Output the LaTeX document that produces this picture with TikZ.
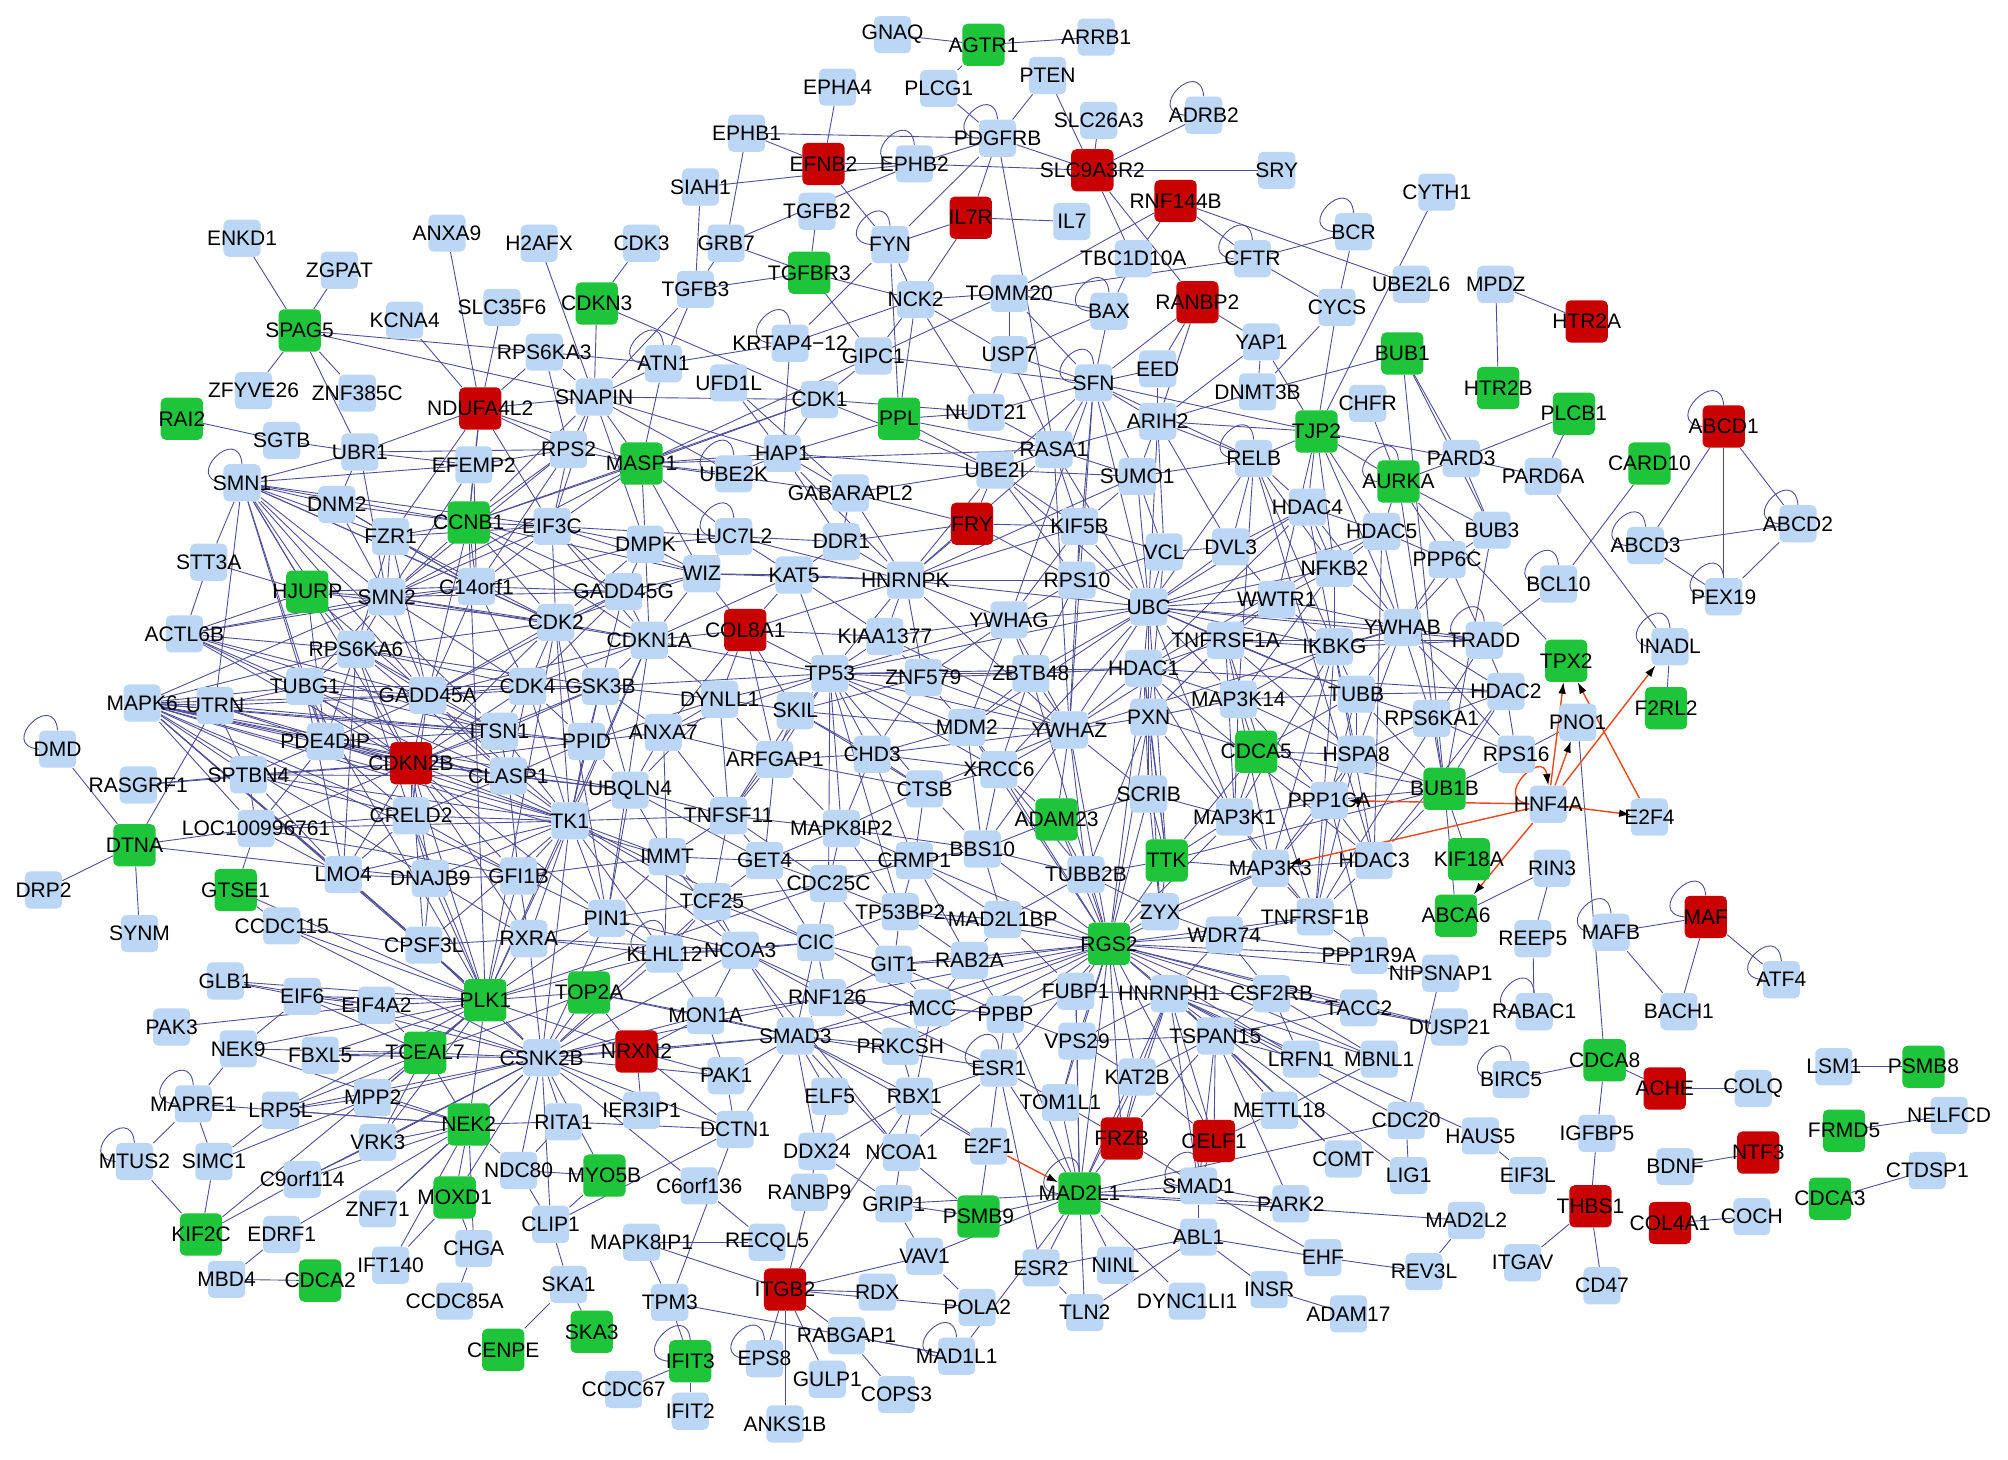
\documentclass[tikz,border=0pt]{standalone}
\usepackage{fontspec}
\setmainfont{Liberation Sans}
\usetikzlibrary{arrows.meta}
\pgfdeclarelayer{bg}
\pgfdeclarelayer{paper}
\pgfsetlayers{paper,bg,main}
\definecolor{lb}{RGB}{188,215,245}
\definecolor{gr}{RGB}{30,196,58}
\definecolor{rd}{RGB}{200,0,0}
\definecolor{ec}{RGB}{78,78,150}
\definecolor{oc}{RGB}{236,72,32}
\tikzset{
 box/.style={rectangle,rounded corners=4pt,inner sep=0pt,draw=none},
 nb/.style={box,fill=lb,minimum size=29pt},
 ng/.style={box,fill=gr,minimum size=33pt},
 nr/.style={box,fill=rd,minimum size=33pt},
 lbl/.style={inner sep=0pt,font=\fontsize{16.4}{18}\selectfont},
 edge/.style={draw=ec,line width=0.7pt},
 oarr/.style={draw=oc,line width=1.1pt,-{Latex[length=9pt,width=6pt,color=black]}},
}
\newcommand\slp[1]{\draw[edge] (#1.north) .. controls +(-3,-32) and +(-32,-3) .. (#1.west);}
\def\Blue{GNAQ/697/27, ARRB1/856/29, PTEN/818/59, EPHA4/654/68, PLCG1/733/69, ADRB2/940/90, SLC26A3/858/94, EPHB1/583/104, PDGFRB/779/108, EPHB2/714/128, SRY/997/133, SIAH1/547/146, CYTH1/1122/150, TGFB2/638/165, IL7/837/173, ENKD1/189/186, ANXA9/349/182, H2AFX/421/190, CDK3/501/190, GRB7/567/190, FYN/695/191, TBC1D10A/885/202, CFTR/978/202, BCR/1057/181, ZGPAT/265/211, TGFB3/543/226, NCK2/715/234, TOMM20/788/229, BAX/866/243, CYCS/1044/240, UBE2L6/1102/222, MPDZ/1168/222, KCNA4/316/250, SLC35F6/392/240, RPS6KA3/425/275, ATN1/518/284, GIPC1/682/278, USP7/788/277, YAP1/985/267, ZFYVE26/198/305, ZNF385C/279/307, SNAPIN/464/310, UFD1L/569/299, CDK1/640/312, NUDT21/770/322, SFN/854/299, EED/904/288, DNMT3B/982/306, CHFR/1068/315, SGTB/220/344, UBR1/281/353, RPS2/444/351, HAP1/611/354, ARIH2/904/329, RASA1/823/351, RELB/979/358, PARD3/1141/358, SMN1/189/377, DNM2/263/394, EFEMP2/370/363, UBE2K/573/370, UBE2I/777/367, SUMO1/888/372, PARD6A/1205/372, FZR1/305/419, EIF3C/431/411, GABARAPL2/664/385, KIF5B/843/411, HDAC4/1021/396, HDAC5/1079/415, BUB3/1165/414, ABCD2/1404/409, ABCD3/1285/426, STT3A/163/439, DMPK/504/425, LUC7L2/573/419, DDR1/657/423, RPS10/841/453, VCL/909/431, DVL3/961/427, PPP6C/1130/437, SMN2/302/466, C14orf1/372/458, WIZ/548/448, KAT5/620/449, HNRNPK/707/453, UBC/897/474, NFKB2/1042/444, WWTR1/997/468, BCL10/1217/456, PEX19/1346/466, ACTL6B/144/495, GADD45G/487/462, CDK2/434/486, CDKN1A/507/500, KIAA1377/691/497, YWHAG/788/484, YWHAB/1095/490, TRADD/1159/500, IKBKG/1042/505, TNFRSF1A/957/500, INADL/1304/505, RPS6KA6/278/507, TUBG1/238/536, GADD45A/334/543, CDK4/412/536, GSK3B/469/536, TP53/648/526, ZNF579/721/529, ZBTB48/805/526, HDAC1/893/522, MAP3K14/967/546, TUBB/1059/542, HDAC2/1176/540, MAPK6/111/549, UTRN/168/551, DYNLL1/562/546, SKIL/621/555, MDM2/755/568, YWHAZ/835/570, PXN/897/560, RPS6KA1/1118/561, PNO1/1232/564, DMD/45/585, PDE4DIP/254/579, ITSN1/390/571, PPID/458/579, ANXA7/518/572, HSPA8/1059/589, RPS16/1184/589, RASGRF1/108/613, SPTBN4/194/605, CLASP1/397/606, UBQLN4/492/617, ARFGAP1/605/593, CHD3/681/589, CTSB/722/616, XRCC6/780/601, LOC100996761/200/647, CRELD2/321/637, TK1/445/641, TNFSF11/569/637, MAPK8IP2/657/647, BBS10/767/663, SCRIB/897/620, PPP1CA/1038/625, HNF4A/1209/628, E2F4/1288/638, MAP3K1/964/638, IMMT/521/669, GET4/597/672, CRMP1/714/672, GFI1B/405/684, DNAJB9/336/686, LMO4/268/683, MAP3K3/992/678, HDAC3/1073/672, RIN3/1212/678, CDC25C/647/690, TUBB2B/848/683, DRP2/34/695, TCF25/556/704, TP53BP2/703/712, MAD2L1BP/783/718, ZYX/906/712, SYNM/109/729, CCDC115/220/723, RXRA/413/733, PIN1/474/717, KLHL12/519/745, NCOA3/578/742, CIC/637/736, WDR74/956/730, TNFRSF1B/1027/716, REEP5/1197/733, MAFB/1258/728, CPSF3L/331/738, GIT1/698/753, RAB2A/757/750, PPP1R9A/1069/746, NIPSNAP1/1125/760, ATF4/1391/765, GLB1/176/766, EIF6/236/778, EIF4A2/294/785, MON1A/551/793, RNF126/646/779, MCC/728/787, FUBP1/840/774, HNRNPH1/913/776, CSF2RB/993/776, TACC2/1061/787, DUSP21/1132/802, RABAC1/1198/790, BACH1/1311/790, PAK3/134/802, NEK9/186/819, FBXL5/250/824, CSNK2B/423/826, SMAD3/621/809, PRKCSH/703/817, PPBP/785/792, VPS29/841/813, TSPAN15/949/809, LRFN1/1016/827, MBNL1/1077/827, BIRC5/1180/843, COLQ/1369/850, LSM1/1432/833, PAK1/567/840, ESR1/780/834, KAT2B/888/841, MAPRE1/151/862, LRP5L/219/867, MPP2/291/857, RITA1/440/876, IER3IP1/501/867, ELF5/648/856, RBX1/714/856, DCTN1/574/882, TOM1L1/828/861, METTL18/999/867, CDC20/1098/875, HAUS5/1156/887, EIF3L/1193/918, IGFBP5/1247/885, BDNF/1308/911, NELFCD/1522/871, MTUS2/105/907, SIMC1/167/907, C9orf114/236/921, VRK3/295/892, NDC80/405/914, DDX24/638/899, NCOA1/704/900, E2F1/772/895, C6orf136/546/926, COMT/1049/905, LIG1/1100/918, EDRF1/220/964, ZNF71/295/944, CLIP1/430/956, RANBP9/632/931, GRIP1/698/940, SMAD1/936/926, PARK2/1008/940, MAD2L2/1145/953, COCH/1368/950, CTDSP1/1505/914, MBD4/177/999, IFT140/305/988, CHGA/370/975, VAV1/722/981, ABL1/936/966, EHF/1033/982, REV3L/1112/993, ITGAV/1189/986, CCDC85A/355/1016, SKA1/444/1003, MAPK8IP1/501/970, RECQL5/599/970, ESR2/813/990, NINL/871/988, INSR/991/1007, RDX/685/1009, POLA2/763/1021, TLN2/847/1025, DYNC1LI1/927/1016, ADAM17/1053/1026, CD47/1251/1004, TPM3/523/1017, RABGAP1/661/1043, EPS8/597/1061, MAD1L1/747/1059, GULP1/646/1077, COPS3/700/1089, CCDC67/487/1085, IFIT2/539/1102, ANKS1B/613/1112}
\def\Green{AGTR1/768/35, TGFBR3/632/213, CDKN3/466/237, SPAG5/234/258, BUB1/1095/276, HTR2B/1170/303, PPL/702/327, TJP2/1028/337, PLCB1/1229/323, RAI2/142/327, MASP1/501/362, CARD10/1288/362, AURKA/1092/376, CCNB1/366/408, HJURP/240/462, TPX2/1223/516, F2RL2/1301/553, CDCA5/981/587, ADAM23/825/640, BUB1B/1128/616, DTNA/105/660, TTK/911/672, KIF18A/1147/671, GTSE1/184/695, ABCA6/1137/715, RGS2/866/737, PLK1/379/781, TOP2A/460/775, TCEAL7/332/822, CDCA8/1253/828, PSMB8/1502/833, NEK2/366/878, FRMD5/1440/883, MYO5B/472/918, KIF2C/157/964, MOXD1/355/935, PSMB9/764/950, MAD2L1/843/932, CDCA3/1429/936, CDCA2/250/1000, SKA3/462/1040, CENPE/393/1054, IFIT3/539/1063}
\def\Red{EFNB2/643/128, SLC9A3R2/853/133, RNF144B/918/157, IL7R/758/170, RANBP2/935/236, HTR2A/1239/251, NDUFA4L2/375/319, ABCD1/1346/333, FRY/759/409, COL8A1/582/492, CDKN2B/321/596, MAF/1332/716, NRXN2/497/821, ACHE/1300/850, FRZB/876/889, CELF1/948/891, NTF3/1373/900, THBS1/1242/942, COL4A1/1304/955, ITGB2/613/1007}
\begin{document}
\begin{tikzpicture}[x=1pt,y=-1pt]
\begin{pgfonlayer}{paper}
\fill[white] (0,0) rectangle (1568,1140);
\end{pgfonlayer}
\useasboundingbox (0,0) rectangle (1568,1140);
% boxes
\foreach \n/\x/\y in \Blue {\node[nb] (\n) at (\x,\y) {};}
\node[nb] (KRTAP) at (617,268) {};
\foreach \n/\x/\y in \Green {\node[ng] (\n) at (\x,\y) {};}
\foreach \n/\x/\y in \Red {\node[nr] (\n) at (\x,\y) {};}
% labels
\foreach \n/\x/\y in \Blue {\node[lbl] at (\x,\y) {\n};}
\node[lbl] at (617,268) {KRTAP4−12};
\foreach \n/\x/\y in \Green {\node[lbl] at (\x,\y) {\n};}
\foreach \n/\x/\y in \Red {\node[lbl] at (\x,\y) {\n};}
\begin{pgfonlayer}{bg}
\foreach \a/\b in {GNAQ/AGTR1, AGTR1/ARRB1, AGTR1/PLCG1, PLCG1/PDGFRB, PTEN/PDGFRB, PTEN/SLC9A3R2, EPHA4/EFNB2, EPHB1/PDGFRB, EPHB1/EFNB2, EPHB1/GRB7, EFNB2/EPHB2, EPHB2/PDGFRB, EPHB2/SLC9A3R2, SIAH1/EPHB2, SIAH1/TGFB3, EFNB2/FYN, GRB7/EPHB2, GRB7/TGFBR3, GRB7/TGFB3, TGFB2/TGFBR3, TGFB3/TGFBR3, FYN/IL7R, FYN/PDGFRB, FYN/NCK2, FYN/PPL, FYN/KRTAP, IL7R/PDGFRB, IL7R/NCK2, IL7R/IL7, TGFBR3/NCK2, TGFBR3/GIPC1, CDKN3/CDK3, CDKN3/SNAPIN, CDKN3/CDK1, H2AFX/SNAPIN, TGFB3/ATN1, TGFB3/SNAPIN, ATN1/RPS6KA3, ATN1/KRTAP, ATN1/MASP1, ATN1/SNAPIN, KRTAP/NCK2, KRTAP/HAP1, GIPC1/NCK2, GIPC1/CDK1, GIPC1/TOMM20, NCK2/PPL, NCK2/NUDT21, NCK2/TOMM20, NCK2/USP7, UFD1L/HAP1, UFD1L/GABARAPL2, RPS6KA3/SNAPIN, RPS6KA3/RPS2, SNAPIN/RPS2, SNAPIN/MASP1, SNAPIN/UBE2K, SNAPIN/HAP1, SNAPIN/NDUFA4L2, SNAPIN/CDK1, SNAPIN/EIF3C, SNAPIN/CCNB1, SNAPIN/DMPK, CDK1/HAP1, CDK1/NUDT21, CDK1/UBE2I, PPL/NUDT21, PPL/HAP1, PPL/UBE2I, PPL/RASA1, MASP1/RPS2, MASP1/UBE2K, MASP1/HAP1, MASP1/GIPC1, MASP1/CDK1, MASP1/WIZ, MASP1/LUC7L2, MASP1/DMPK, MASP1/GABARAPL2, MASP1/EIF3C, MASP1/CCNB1, MASP1/RASA1, HAP1/UBE2I, HAP1/GABARAPL2, HAP1/UBE2K, HAP1/DDR1, HAP1/HNRNPK, SLC26A3/SLC9A3R2, ADRB2/SLC9A3R2, SLC9A3R2/SRY, SLC9A3R2/PDGFRB, SLC9A3R2/TBC1D10A, SLC9A3R2/RANBP2, PDGFRB/RASA1, RNF144B/TBC1D10A, RNF144B/TOMM20, RNF144B/CFTR, RNF144B/UBE2L6, CFTR/BCR, CFTR/CYCS, CFTR/TOMM20, BCR/CYCS, CYTH1/TJP2, TBC1D10A/BAX, BAX/SFN, BAX/TOMM20, BAX/USP7, TOMM20/SFN, TOMM20/USP7, RANBP2/SFN, RANBP2/EED, RANBP2/YAP1, RANBP2/ARIH2, YAP1/DNMT3B, YAP1/TJP2, YAP1/ARIH2, CYCS/DNMT3B, CYCS/TJP2, BUB1/DNMT3B, BUB1/PARD3, CHFR/AURKA, TJP2/PARD3, TJP2/SFN, TJP2/RELB, TJP2/ARIH2, EED/SFN, EED/ARIH2, SFN/USP7, SFN/RASA1, SFN/ARIH2, SFN/UBE2I, SFN/SUMO1, SFN/RELB, SFN/NUDT21, SFN/GIPC1, ARIH2/RELB, ARIH2/DNMT3B, ARIH2/SUMO1, ARIH2/RASA1, RASA1/SUMO1, RASA1/UBE2I, RASA1/NUDT21, USP7/RASA1, USP7/NUDT21, MPDZ/HTR2A, MPDZ/HTR2B, PLCB1/PARD6A, PLCB1/PARD3, PARD3/PARD6A, PARD3/AURKA, ABCD1/ABCD3, ABCD1/PEX19, ABCD1/ABCD2, ABCD2/ABCD3, ABCD2/PEX19, ABCD3/PEX19, PARD6A/INADL, BCL10/CARD10, BCL10/TRADD, TPX2/AURKA, INADL/F2RL2, RPS16/PNO1, PNO1/CDCA8, RIN3/REEP5, RIN3/ABCA6, REEP5/RABAC1, MAFB/MAF, MAFB/BACH1, MAF/ATF4, MAF/BACH1, CDCA8/BIRC5, CDCA8/ACHE, CDCA8/IGFBP5, ACHE/COLQ, LSM1/PSMB8, FRMD5/NELFCD, BDNF/NTF3, COL4A1/COCH, CDCA3/CTDSP1, IGFBP5/THBS1, THBS1/ITGAV, THBS1/CD47}
 {\draw[edge] (\a) -- (\b);}
\foreach \a/\b in {SMN1/STT3A, SMN1/DNM2, SMN1/FZR1, SMN1/SMN2, SMN1/HJURP, SMN1/RPS6KA6, SMN1/TUBG1, SMN1/GADD45A, SMN1/CCNB1, SMN1/C14orf1, SMN1/EFEMP2, SMN1/EIF3C, SMN1/CDK2, SMN1/CDKN2B, SMN1/PDE4DIP, SMN1/UTRN, SMN1/ITSN1, SMN1/UBR1, SMN2/FZR1, SMN2/DNM2, SMN2/HJURP, SMN2/C14orf1, SMN2/CCNB1, SMN2/EIF3C, SMN2/RPS6KA6, SMN2/GADD45A, SMN2/CDK4, SMN2/CDK2, SMN2/ACTL6B, SMN2/RPS2, SMN2/GADD45G, SMN2/MASP1, SMN2/CDKN1A, SMN2/UBR1, SMN2/EFEMP2, SMN2/TUBG1, SMN2/MAPK6, DNM2/FZR1, DNM2/CCNB1, DNM2/UBR1, DNM2/C14orf1, FZR1/CCNB1, FZR1/CDK2, FZR1/C14orf1, FZR1/EIF3C, FZR1/GADD45A, FZR1/RPS6KA6, CCNB1/EIF3C, CCNB1/CDK2, CCNB1/C14orf1, CCNB1/GADD45G, CCNB1/CDK1, CCNB1/RPS2, CCNB1/EFEMP2, CCNB1/WIZ, CCNB1/CDKN1A, CCNB1/PLK1, CCNB1/GADD45A, EFEMP2/RPS2, EFEMP2/NDUFA4L2, EFEMP2/UBR1, EFEMP2/C14orf1, NDUFA4L2/UBR1, NDUFA4L2/RPS2, NDUFA4L2/CCNB1, NDUFA4L2/FZR1, NDUFA4L2/EIF3C, NDUFA4L2/MASP1, NDUFA4L2/RPS6KA3, KCNA4/NDUFA4L2, ANXA9/NDUFA4L2, SLC35F6/NDUFA4L2, SPAG5/ENKD1, SPAG5/ZGPAT, SPAG5/ZFYVE26, SPAG5/ZNF385C, SPAG5/UBR1, SPAG5/RPS6KA3, SPAG5/SNAPIN, RAI2/SGTB, SGTB/UBR1, UBR1/RPS2, C14orf1/EIF3C, C14orf1/CDK2, C14orf1/GADD45G, C14orf1/CDK4, C14orf1/GADD45A, C14orf1/DMPK, C14orf1/RPS2, EIF3C/DMPK, EIF3C/GADD45G, EIF3C/CDK2, EIF3C/WIZ, EIF3C/RPS2, EIF3C/CDKN1A, EIF3C/LUC7L2, STT3A/ACTL6B, STT3A/HJURP, ACTL6B/RPS6KA6, ACTL6B/HJURP, ACTL6B/GADD45A, ACTL6B/TUBG1, ACTL6B/CDKN2B, ACTL6B/ITSN1, ACTL6B/C14orf1, ACTL6B/TK1, HJURP/RPS6KA6, HJURP/GADD45A, HJURP/CDK2, HJURP/C14orf1, HJURP/PDE4DIP, RPS6KA6/TUBG1, RPS6KA6/GADD45A, RPS6KA6/CDKN2B, RPS6KA6/PDE4DIP, RPS6KA6/CDK4, RPS6KA6/GSK3B, RPS6KA6/CDK2, RPS6KA6/ITSN1, RPS6KA6/CLASP1, RPS6KA6/LMO4, RPS6KA6/CRELD2}
 {\draw[edge] (\a) -- (\b);}
\foreach \a/\b in {MAPK6/UTRN, MAPK6/TUBG1, MAPK6/PDE4DIP, MAPK6/SPTBN4, MAPK6/CDKN2B, MAPK6/CLASP1, MAPK6/LOC100996761, MAPK6/LMO4, MAPK6/DNAJB9, MAPK6/TK1, MAPK6/CRELD2, MAPK6/ITSN1, MAPK6/GADD45A, MAPK6/CPSF3L, MAPK6/GFI1B, MAPK6/RPS6KA6, MAPK6/UBQLN4, MAPK6/PPID, MAPK6/IMMT, UTRN/DTNA, UTRN/TUBG1, UTRN/PDE4DIP, UTRN/CDKN2B, UTRN/GADD45A, UTRN/SPTBN4, UTRN/ITSN1, DMD/DTNA, DTNA/DRP2, DTNA/SYNM, DTNA/DNAJB9, DTNA/LOC100996761, RASGRF1/SPTBN4, RASGRF1/CDKN2B, TUBG1/GADD45A, TUBG1/PDE4DIP, TUBG1/CDKN2B, TUBG1/CDK4, TUBG1/ITSN1, TUBG1/CLASP1, TUBG1/LMO4, TUBG1/PLK1, GADD45A/CDKN2B, GADD45A/CDK4, GADD45A/GSK3B, GADD45A/CDK2, GADD45A/CDKN1A, GADD45A/TK1, GADD45A/ITSN1, GADD45A/CLASP1, GADD45A/PDE4DIP, GADD45A/CRELD2, GADD45A/GADD45G, PDE4DIP/CDKN2B, PDE4DIP/SPTBN4, PDE4DIP/ITSN1, PDE4DIP/CLASP1, PDE4DIP/LOC100996761, PDE4DIP/TK1, PDE4DIP/CRELD2, CDKN2B/CDK4, CDKN2B/CDK2, CDKN2B/ITSN1, CDKN2B/CLASP1, CDKN2B/CRELD2, CDKN2B/TK1, CDKN2B/SPTBN4, CDKN2B/LMO4, CDKN2B/DNAJB9, CDKN2B/GFI1B, CDKN2B/CPSF3L, CDKN2B/PIN1, CDKN2B/RXRA, CDKN2B/PLK1, CDKN2B/GSK3B, CDKN2B/LOC100996761, CDKN2B/PPID, CDKN2B/UBQLN4, SPTBN4/LOC100996761, SPTBN4/CRELD2, SPTBN4/TK1, SPTBN4/CLASP1, SPTBN4/LMO4, LOC100996761/GTSE1, LOC100996761/CRELD2, LOC100996761/LMO4, LOC100996761/GFI1B, LOC100996761/TK1, GTSE1/CCDC115, CCDC115/PLK1, CCDC115/CPSF3L, CCDC115/CSNK2B, CRELD2/TK1, CRELD2/DNAJB9, CRELD2/GFI1B, CRELD2/CLASP1, CRELD2/LMO4, CRELD2/PLK1, LMO4/DNAJB9, LMO4/PLK1, LMO4/CPSF3L, LMO4/TK1, DNAJB9/GFI1B, DNAJB9/TK1, DNAJB9/PLK1, DNAJB9/CPSF3L, DNAJB9/RXRA, CPSF3L/PLK1, CPSF3L/RXRA, CPSF3L/CSNK2B, CPSF3L/TK1, ITSN1/CDK4, ITSN1/CLASP1, ITSN1/TK1, ITSN1/GSK3B, ITSN1/PPID, CLASP1/TK1, CLASP1/UBQLN4, CLASP1/PPID, CLASP1/GFI1B, CLASP1/CDK4, CDK2/CDKN1A, CDK2/GADD45G, CDK2/CDK4, CDK2/GSK3B, CDK2/DMPK, CDK2/TK1, CDK2/WIZ, CDK2/PIN1, GADD45G/CDKN1A, GADD45G/DMPK, GADD45G/WIZ, GADD45G/CDK4, GADD45G/GSK3B, CDK4/GSK3B, CDK4/CDKN1A, CDK4/TK1, CDK4/PPID, GSK3B/CDKN1A, GSK3B/TK1, GSK3B/PPID, GSK3B/DYNLL1, GSK3B/ANXA7, GSK3B/TP53, GSK3B/UBQLN4, CDKN1A/COL8A1, CDKN1A/TP53, CDKN1A/WIZ, CDKN1A/DYNLL1, CDKN1A/TK1, CDKN1A/DMPK, CDKN1A/KAT5, CDKN1A/PIN1, DMPK/WIZ, DMPK/LUC7L2, WIZ/LUC7L2, WIZ/KAT5, WIZ/COL8A1, WIZ/HNRNPK, LUC7L2/DDR1, LUC7L2/HNRNPK, LUC7L2/KAT5, KAT5/HNRNPK, KAT5/TP53, KAT5/COL8A1, KAT5/KIAA1377, DDR1/HNRNPK, DDR1/GABARAPL2, DDR1/FRY, DDR1/KAT5}
 {\draw[edge] (\a) -- (\b);}
\foreach \a/\b in {HNRNPK/KIAA1377, HNRNPK/TP53, HNRNPK/YWHAG, HNRNPK/COL8A1, HNRNPK/FRY, HNRNPK/UBE2I, HNRNPK/GABARAPL2, HNRNPK/RPS10, HNRNPK/SUMO1, HNRNPK/RASA1, HNRNPK/ZNF579, HNRNPK/KIF5B, HNRNPK/UBC, HNRNPK/YWHAZ, GABARAPL2/FRY, GABARAPL2/UBE2I, FRY/UBE2I, FRY/KIF5B, FRY/RPS10, UBE2I/SUMO1, UBE2I/KIF5B, UBE2I/RPS10, UBE2I/UBC, COL8A1/TP53, COL8A1/KIAA1377, COL8A1/DYNLL1, COL8A1/SKIL, COL8A1/ANXA7, COL8A1/ARFGAP1, KIAA1377/TP53, KIAA1377/ZNF579, KIAA1377/YWHAG, KIAA1377/YWHAZ, TP53/ZNF579, TP53/SKIL, TP53/DYNLL1, TP53/MDM2, TP53/CHD3, TP53/ARFGAP1, TP53/HDAC1, TP53/YWHAZ, TP53/XRCC6, TP53/CTSB, TP53/TP53BP2, TP53/MAPK8IP2, TP53/CDC25C, TP53/ZBTB48, TP53/YWHAG, TP53/ANXA7, TP53/TNFSF11, ZNF579/ZBTB48, ZNF579/MDM2, ZNF579/YWHAZ, ZNF579/CHD3, ZNF579/SKIL, ZNF579/YWHAG, DYNLL1/SKIL, DYNLL1/ANXA7, DYNLL1/PPID, DYNLL1/ARFGAP1, DYNLL1/UBQLN4, DYNLL1/TNFSF11, SKIL/ARFGAP1, SKIL/CHD3, SKIL/MDM2, SKIL/TNFSF11, SKIL/CTSB, PPID/ANXA7, PPID/UBQLN4, PPID/TK1, ANXA7/UBQLN4, ANXA7/ARFGAP1, ANXA7/TNFSF11, ANXA7/IMMT, ARFGAP1/CHD3, ARFGAP1/TNFSF11, ARFGAP1/MAPK8IP2, ARFGAP1/CTSB, ARFGAP1/GET4, CHD3/CTSB, CHD3/MDM2, CHD3/XRCC6, CHD3/MAPK8IP2, CHD3/CRMP1, CTSB/XRCC6, CTSB/MAPK8IP2, CTSB/BBS10, CTSB/CRMP1, MDM2/XRCC6, MDM2/YWHAZ, MDM2/ZBTB48, MDM2/BBS10, XRCC6/YWHAZ, XRCC6/BBS10, XRCC6/ADAM23, XRCC6/TUBB2B, UBQLN4/TK1, UBQLN4/IMMT, UBQLN4/TNFSF11, UBQLN4/GET4, UBQLN4/PIN1, TK1/PPID, TK1/IMMT, TK1/PIN1, TK1/GFI1B, TK1/RXRA, TK1/PLK1, TK1/CSNK2B, TK1/KLHL12, TK1/TCF25, TK1/TNFSF11, TK1/NCOA3, TK1/CIC, TNFSF11/IMMT, TNFSF11/GET4, TNFSF11/MAPK8IP2, TNFSF11/TCF25, TNFSF11/CDC25C, MAPK8IP2/GET4, MAPK8IP2/CRMP1, MAPK8IP2/CDC25C, MAPK8IP2/BBS10, MAPK8IP2/TP53BP2, IMMT/GET4, IMMT/TCF25, IMMT/PIN1, IMMT/KLHL12, IMMT/NCOA3, IMMT/GFI1B, GET4/CDC25C, GET4/TCF25, GET4/CRMP1, GET4/CIC, CRMP1/BBS10, CRMP1/CDC25C, CRMP1/TP53BP2, CRMP1/RAB2A, CRMP1/MAD2L1BP, CRMP1/RGS2, CDC25C/TP53BP2, CDC25C/CIC, CDC25C/TCF25, CDC25C/GIT1, CDC25C/PLK1, TCF25/PIN1, TCF25/KLHL12, TCF25/NCOA3, TCF25/CIC, TP53BP2/GIT1, TP53BP2/RAB2A, TP53BP2/MAD2L1BP, TP53BP2/CIC, TP53BP2/RGS2, PIN1/RXRA, PIN1/KLHL12, PIN1/GFI1B, PIN1/PLK1, PIN1/CSNK2B, PIN1/NCOA3, GFI1B/RXRA, GFI1B/PLK1, RXRA/PLK1, RXRA/KLHL12, RXRA/CSNK2B, RXRA/NCOA3, KLHL12/NCOA3, KLHL12/CSNK2B, KLHL12/MON1A, KLHL12/CIC, NCOA3/CIC, NCOA3/SMAD3, NCOA3/ESR1, NCOA3/NCOA1, NCOA3/RNF126, NCOA3/MON1A, CIC/GIT1, CIC/RNF126, CIC/SMAD3, CIC/MCC, GIT1/RAB2A, GIT1/RNF126, GIT1/MCC, GIT1/PPBP, GIT1/RGS2, RAB2A/MAD2L1BP, RAB2A/RGS2, RAB2A/MCC, RAB2A/PPBP, BBS10/MAD2L1BP, BBS10/TUBB2B, BBS10/RGS2, BBS10/ADAM23, BBS10/YWHAZ, MAD2L1BP/RGS2, MAD2L1BP/TUBB2B, MAD2L1BP/FUBP1, ADAM23/TUBB2B, ADAM23/RGS2, ADAM23/YWHAZ, ADAM23/SCRIB, TUBB2B/RGS2, TUBB2B/TTK, TUBB2B/YWHAZ, TUBB2B/ZYX}
 {\draw[edge] (\a) -- (\b);}
\foreach \a/\b in {RGS2/ZYX, RGS2/WDR74, RGS2/FUBP1, RGS2/HNRNPH1, RGS2/TTK, RGS2/MCC, RGS2/PPBP, RGS2/VPS29, RGS2/ESR1, RGS2/TOM1L1, RGS2/TSPAN15, RGS2/CSF2RB, RGS2/TACC2, RGS2/MAP3K3, RGS2/SCRIB, RGS2/XRCC6, RGS2/YWHAZ, RGS2/HDAC1, RGS2/SMAD3, RGS2/RNF126, RGS2/PRKCSH, RGS2/DUSP21, RGS2/PPP1R9A, RGS2/NIPSNAP1, RGS2/TNFRSF1B, RGS2/MAP3K1, RGS2/PXN, RGS2/ZBTB48, RGS2/MDM2, RGS2/KAT2B, RGS2/MAD2L1, RGS2/FRZB, RGS2/CELF1, RGS2/LRFN1, RGS2/MBNL1, ZYX/TTK, ZYX/WDR74, ZYX/SCRIB, ZYX/PXN, ZYX/MAP3K3, WDR74/TNFRSF1B, WDR74/MAP3K3, WDR74/HNRNPH1, WDR74/CSF2RB, WDR74/PPP1R9A, TTK/SCRIB, TTK/MAP3K1, TTK/MAP3K3, TTK/PXN, TTK/BUB1B, TTK/CDCA5, TTK/HDAC1, SCRIB/PXN, SCRIB/MAP3K1, SCRIB/YWHAZ, SCRIB/HDAC1, MAP3K1/MAP3K3, MAP3K1/MAP3K14, MAP3K1/PPP1CA, MAP3K1/CDCA5, MAP3K1/TNFRSF1A, MAP3K1/IKBKG, MAP3K1/PXN, MAP3K1/HDAC1, MAP3K1/TNFRSF1B, MAP3K3/TNFRSF1B, MAP3K3/PPP1CA, MAP3K3/HDAC3, MAP3K3/IKBKG, MAP3K3/MAP3K14, MAP3K3/HSPA8, HDAC3/HDAC1, HDAC3/HDAC2, HDAC3/HDAC4, HDAC3/HDAC5, HDAC3/TNFRSF1B, HDAC3/PPP1CA, HDAC3/BUB1B, HDAC3/RELB, PPP1CA/HSPA8, PPP1CA/TNFRSF1B, PPP1CA/PPP1R9A, PPP1CA/TUBB, PPP1CA/CDCA5, PPP1CA/BUB1B, PPP1CA/MAP3K14, TNFRSF1B/PPP1R9A, TNFRSF1B/TNFRSF1A, TNFRSF1B/TRADD, TNFRSF1B/IKBKG, TNFRSF1B/HSPA8, CDCA5/HSPA8, CDCA5/TUBB, CDCA5/MAP3K14, CDCA5/BUB1B, CDCA5/PXN, HSPA8/TUBB, HSPA8/RPS6KA1, HSPA8/BUB1B, HSPA8/IKBKG, HSPA8/MAP3K14, HSPA8/TNFRSF1A, HSPA8/YWHAB, BUB1B/BUB3, BUB1B/BUB1, BUB1B/AURKA, BUB1B/RPS16, BUB1B/RPS6KA1, BUB1B/KIF18A, BUB1B/ABCA6, BUB1B/TUBB, BUB1B/HDAC2, RPS6KA1/TUBB, RPS6KA1/YWHAB, RPS6KA1/RPS16, RPS6KA1/HDAC2, RPS16/HDAC2, RPS16/YWHAB, TUBB/MAP3K14, TUBB/TNFRSF1A, TUBB/IKBKG, TUBB/YWHAB, TUBB/HDAC2, TUBB/UBC, MAP3K14/TNFRSF1A, MAP3K14/IKBKG, MAP3K14/PXN, MAP3K14/HDAC1, MAP3K14/UBC, MAP3K14/NFKB2, MAP3K14/RELB, IKBKG/TNFRSF1A, IKBKG/NFKB2, IKBKG/TRADD, IKBKG/YWHAB, IKBKG/RELB, IKBKG/WWTR1, IKBKG/UBC, TNFRSF1A/TRADD, TNFRSF1A/UBC, TNFRSF1A/WWTR1, TNFRSF1A/HDAC1, TNFRSF1A/PXN, YWHAB/TRADD, YWHAB/NFKB2, YWHAB/HDAC4, YWHAB/HDAC5, YWHAB/PPP6C, YWHAB/BUB3, YWHAB/HDAC2, YWHAB/WWTR1, YWHAB/UBC, YWHAB/TJP2, TRADD/HDAC2, TRADD/PPP6C, NFKB2/RELB, NFKB2/HDAC4, NFKB2/HDAC5, NFKB2/WWTR1, NFKB2/UBC, NFKB2/TJP2, HDAC4/HDAC5, HDAC4/RELB, HDAC4/TJP2, HDAC4/UBC, HDAC4/HDAC1, HDAC4/DVL3, HDAC5/HDAC1, HDAC5/TJP2, HDAC5/PPP6C, HDAC5/AURKA, PPP6C/BUB3, PPP6C/AURKA, BUB3/BUB1, BUB3/AURKA, BUB3/PARD3, AURKA/TJP2, WWTR1/UBC, WWTR1/DVL3, WWTR1/TJP2, WWTR1/YWHAZ, DVL3/UBC, DVL3/VCL, DVL3/RELB, DVL3/ARIH2, VCL/UBC, VCL/PXN, VCL/KIF5B, VCL/RPS10, VCL/ARIH2, VCL/SUMO1}
 {\draw[edge] (\a) -- (\b);}
\foreach \a/\b in {UBC/YWHAZ, UBC/HDAC1, UBC/PXN, UBC/RPS10, UBC/KIF5B, UBC/SFN, UBC/RASA1, UBC/SUMO1, UBC/ARIH2, UBC/YWHAG, UBC/ZBTB48, UBC/MDM2, UBC/TP53, UBC/XRCC6, UBC/SCRIB, UBC/HDAC5, UBC/RELB, UBC/MAP3K1, UBC/TTK, UBC/TRADD, KIF5B/RPS10, KIF5B/YWHAG, KIF5B/SUMO1, KIF5B/RASA1, RPS10/YWHAG, RPS10/YWHAZ, RPS10/ZBTB48, RPS10/SFN, YWHAG/YWHAZ, YWHAG/ZBTB48, YWHAG/SFN, YWHAG/MDM2, ZBTB48/YWHAZ, ZBTB48/HDAC1, ZBTB48/XRCC6, HDAC1/YWHAZ, HDAC1/PXN, HDAC1/HDAC2, YWHAZ/PXN, YWHAZ/SFN, YWHAZ/YWHAB, YWHAZ/RASA1, YWHAZ/CTSB, YWHAZ/CHD3, PXN/SCRIB, PXN/TUBB2B, SUMO1/RELB, PLK1/CSNK2B, PLK1/TCEAL7, PLK1/NEK2, PLK1/EIF4A2, PLK1/EIF6, PLK1/GLB1, PLK1/NEK9, PLK1/FBXL5, PLK1/MPP2, PLK1/LRP5L, PLK1/TOP2A, PLK1/VRK3, PLK1/CDK2, PLK1/CDKN1A, PLK1/GTSE1, PLK1/MAPK6, PLK1/KIF2C, PLK1/NRXN2, PLK1/KLHL12, EIF4A2/EIF6, EIF4A2/PAK3, EIF4A2/TCEAL7, EIF4A2/CSNK2B, EIF4A2/GLB1, EIF6/GLB1, EIF6/NEK9, EIF6/TCEAL7, EIF6/CSNK2B, NEK9/MAPRE1, NEK9/TCEAL7, NEK9/NEK2, FBXL5/TCEAL7, FBXL5/CSNK2B, TCEAL7/CSNK2B, TCEAL7/NEK2, TCEAL7/LRP5L, TCEAL7/MPP2, TCEAL7/VRK3, TCEAL7/TOP2A, CSNK2B/NEK2, CSNK2B/MPP2, CSNK2B/VRK3, CSNK2B/RITA1, CSNK2B/NDC80, CSNK2B/NRXN2, CSNK2B/MYO5B, CSNK2B/CLIP1, CSNK2B/C6orf136, CSNK2B/IER3IP1, CSNK2B/DCTN1, CSNK2B/PAK1, CSNK2B/MON1A, CSNK2B/TOP2A, CSNK2B/LRP5L, CSNK2B/MOXD1, CSNK2B/ZNF71, CSNK2B/SMAD3, CSNK2B/TCF25, CSNK2B/RNF126, CSNK2B/C9orf114, CSNK2B/NCOA3, NEK2/MPP2, NEK2/VRK3, NEK2/ZNF71, NEK2/MOXD1, NEK2/IFT140, NEK2/EDRF1, NEK2/C9orf114, NEK2/RITA1, NEK2/NDC80, NEK2/LRP5L, NEK2/MAPRE1, NEK2/CHGA, MAPRE1/MTUS2, MAPRE1/SIMC1, MTUS2/KIF2C, SIMC1/KIF2C, SIMC1/MPP2, LRP5L/MPP2, LRP5L/SIMC1, KIF2C/C9orf114, C9orf114/VRK3, EDRF1/MBD4, MBD4/CDCA2, MOXD1/CHGA, CHGA/CCDC85A, IFT140/MOXD1, NDC80/CLIP1, NDC80/MYO5B, NDC80/RITA1, RITA1/DCTN1, TOP2A/NRXN2, TOP2A/MON1A, TOP2A/SMAD3, NRXN2/IER3IP1, NRXN2/PAK1, NRXN2/SMAD3, NRXN2/MON1A, NRXN2/DCTN1, MON1A/PAK1, MON1A/SMAD3, MON1A/RNF126, SMAD3/PAK1, SMAD3/RNF126, SMAD3/ELF5, SMAD3/DDX24, SMAD3/DCTN1, SMAD3/NCOA1, SMAD3/PRKCSH, SMAD3/MCC, SMAD3/ESR1, SMAD3/RBX1, SMAD3/E2F1, RNF126/MCC, RNF126/PRKCSH, RNF126/PPBP, PRKCSH/RBX1, MCC/RBX1, MCC/PRKCSH, MCC/PPBP, PPBP/ESR1, PPBP/FUBP1, PPBP/VPS29, PPBP/MAD2L1, ESR1/NCOA1, ESR1/E2F1, ESR1/RBX1, ESR1/MAD2L1, ESR1/ESR2, ESR1/TOM1L1, RBX1/NCOA1, RBX1/ITGB2, RBX1/DDX24, ELF5/DDX24, DDX24/GRIP1, DDX24/RANBP9, DCTN1/TPM3, DCTN1/PAK1, DCTN1/CLIP1, C6orf136/RECQL5, RANBP9/ITGB2, NCOA1/GRIP1, NCOA1/PSMB9, E2F1/PSMB9, E2F1/RBX1, GRIP1/PSMB9, GRIP1/VAV1, ITGB2/VAV1, ITGB2/RDX, ITGB2/POLA2, ITGB2/RABGAP1, ITGB2/GULP1, ITGB2/ANKS1B, ITGB2/EPS8, ITGB2/MAPK8IP1, VAV1/POLA2, VAV1/MAD2L1, MAPK8IP1/RECQL5, MAPK8IP1/TPM3, CLIP1/SKA1, SKA1/SKA3, SKA1/CENPE, CLIP1/MYO5B, TPM3/IFIT3, IFIT3/CCDC67, IFIT3/IFIT2, TPM3/MAD1L1, RABGAP1/COPS3, RABGAP1/MAD1L1, MAD1L1/MAD2L1}
 {\draw[edge] (\a) -- (\b);}
\foreach \a/\b in {MAD2L1/FRZB, MAD2L1/SMAD1, MAD2L1/ABL1, MAD2L1/ESR2, MAD2L1/NINL, MAD2L1/TLN2, MAD2L1/DYNC1LI1, MAD2L1/MAD2L2, MAD2L1/PARK2, MAD2L1/CDC20, MAD2L1/TOM1L1, MAD2L1/KAT2B, MAD2L1/PSMB9, MAD2L1/GRIP1, MAD2L1/VPS29, MAD2L1/FUBP1, MAD2L1/HNRNPH1, FRZB/TSPAN15, FRZB/SMAD1, FRZB/TOM1L1, FRZB/KAT2B, FRZB/HNRNPH1, CELF1/METTL18, CELF1/KAT2B, CELF1/HNRNPH1, CELF1/SMAD1, CELF1/TSPAN15, SMAD1/PARK2, SMAD1/EHF, SMAD1/ABL1, SMAD1/TSPAN15, SMAD1/HNRNPH1, METTL18/MBNL1, METTL18/TSPAN15, TSPAN15/LRFN1, TSPAN15/PARK2, TSPAN15/COMT, TSPAN15/CSF2RB, TSPAN15/HNRNPH1, TSPAN15/KAT2B, TSPAN15/TACC2, TSPAN15/VPS29, HNRNPH1/LIG1, HNRNPH1/COMT, HNRNPH1/MBNL1, HNRNPH1/LRFN1, HNRNPH1/FUBP1, HNRNPH1/CSF2RB, HNRNPH1/KAT2B, HNRNPH1/VPS29, HNRNPH1/CDC20, HNRNPH1/HAUS5, CSF2RB/MBNL1, CSF2RB/TACC2, CSF2RB/DUSP21, CSF2RB/LRFN1, TACC2/DUSP21, NIPSNAP1/CDC20, CDC20/LIG1, HAUS5/EIF3L, ABL1/INSR, ABL1/EHF, ABL1/TLN2, ABL1/ESR2, EHF/REV3L, MAD2L2/REV3L, INSR/ADAM17, FUBP1/VPS29, VPS29/KAT2B, VPS29/TOM1L1, ESR2/TLN2}
 {\draw[edge] (\a) -- (\b);}
\foreach \n in {PDGFRB, EPHB2, FYN, ADRB2, CFTR, BCR, BAX, ATN1, KRTAP, UBE2K, SMN1, DMD, ABCD1, ABCD2, ABCD3, PEX19, BCL10, INADL, MAFB, MAF, ATF4, MAPRE1, MTUS2, EPS8, MAD1L1, MAD2L1, IFIT3, BIRC5, SMAD1, RABAC1, TRADD, ESR1, SFN, RELB, AURKA, KLHL12, LUC7L2}
 {\slp{\n}}
% orange regulatory edges
\draw[oarr] (HNF4A) -- (PNO1);
\draw[oarr] (HNF4A) -- (TPX2);
\draw[oarr] (E2F4) -- (TPX2);
\draw[oarr] (HNF4A) -- (INADL);
\draw[oarr] (HNF4A) -- (E2F4);
\draw[oarr] (HNF4A) -- (PPP1CA);
\draw[oarr] (HNF4A) -- (MAP3K3);
\draw[oarr] (HNF4A) -- (ABCA6);
\draw[oarr] (HNF4A.west) .. controls +(-30,-4) and +(-4,-30) .. (HNF4A.north);
\draw[oarr] (E2F1) -- (MAD2L1);
\end{pgfonlayer}
\end{tikzpicture}
\end{document}
